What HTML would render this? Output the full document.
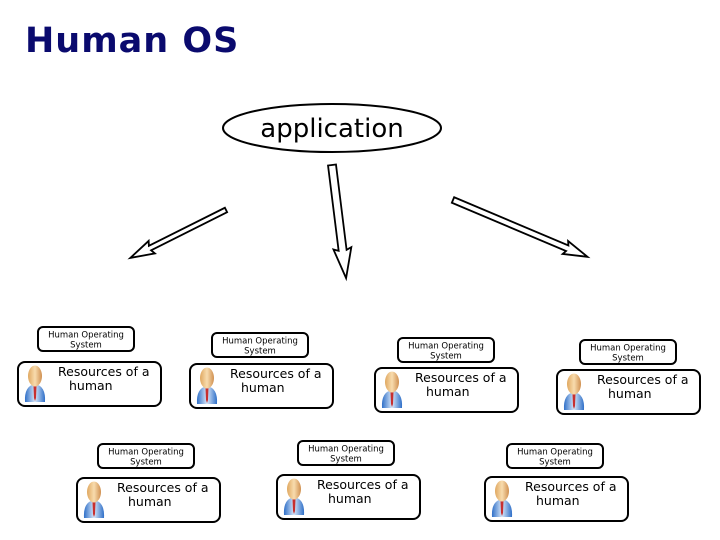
<!DOCTYPE html>
<html><head><meta charset="utf-8"><style>
html,body{margin:0;padding:0;background:#fff;width:720px;height:540px;overflow:hidden}
svg{display:block}
text{font-family:"DejaVu Sans","Liberation Sans",sans-serif}
</style></head><body>
<svg width="720" height="540" viewBox="0 0 720 540" xmlns="http://www.w3.org/2000/svg">
<defs>
<linearGradient id="face" x1="0" y1="0" x2="1" y2="0"><stop offset="0" stop-color="#e0a860"/><stop offset="0.5" stop-color="#f8dcae"/><stop offset="1" stop-color="#d09050"/></linearGradient>
<linearGradient id="body" x1="0" y1="0" x2="1" y2="0"><stop offset="0" stop-color="#2f6fc8"/><stop offset="0.5" stop-color="#d6e6f8"/><stop offset="1" stop-color="#2f6fc8"/></linearGradient>
<g id="unit">
  <rect x="0" y="0" width="96" height="24" rx="5" fill="#fff" stroke="#000" stroke-width="2"/>
  <text x="48" y="10.5" font-size="8.5" text-anchor="middle">Human Operating</text>
  <text x="48" y="20.5" font-size="8.5" text-anchor="middle">System</text>
</g>
<g id="res">
  <rect x="0" y="0" width="143" height="44" rx="7" fill="#fff" stroke="#000" stroke-width="2"/>
  <path d="M7,40 Q6,24 17,22 Q28,24 27,40 Z" fill="url(#body)"/>
  <path d="M15.5,24 L18.5,24 L18,36 L17,39 L16,36 Z" fill="#c83030"/>
  <ellipse cx="17" cy="14" rx="7" ry="10.5" fill="url(#face)"/>
  <text x="40" y="14" font-size="12.5">Resources of a</text>
  <text x="51" y="28" font-size="12.5">human</text>
</g>
</defs>
<text x="25" y="52" font-family="Liberation Sans,sans-serif" font-weight="bold" font-size="35" fill="#0a0a6e" letter-spacing="1">Human OS</text>
<ellipse cx="332" cy="128" rx="109" ry="24" fill="#fff" stroke="#000" stroke-width="2"/>
<text x="332" y="137" font-size="26" text-anchor="middle">application</text>
<g fill="#fff" stroke="#000" stroke-width="1.8" stroke-linejoin="miter">
<polygon transform="translate(226,210) rotate(153.4)" points="0,-2.5 85,-2.5 83,-7 107,0 83,7 85,2.5 0,2.5"/>
<polygon transform="translate(332,165) rotate(82.9)" points="0,-4 86,-4 84,-9 114,0 84,9 86,4 0,4"/>
<polygon transform="translate(453,200) rotate(22.9)" points="0,-3 124,-3 122,-7 146,0 122,7 124,3 0,3"/>
</g>
<use href="#unit" x="38" y="327"/><use href="#res" x="18" y="362"/>
<use href="#unit" x="212" y="333"/><use href="#res" x="190" y="364"/>
<use href="#unit" x="398" y="338"/><use href="#res" x="375" y="368"/>
<use href="#unit" x="580" y="340"/><use href="#res" x="557" y="370"/>
<use href="#unit" x="98" y="444"/><use href="#res" x="77" y="478"/>
<use href="#unit" x="298" y="441"/><use href="#res" x="277" y="475"/>
<use href="#unit" x="507" y="444"/><use href="#res" x="485" y="477"/>
</svg>
</body></html>
